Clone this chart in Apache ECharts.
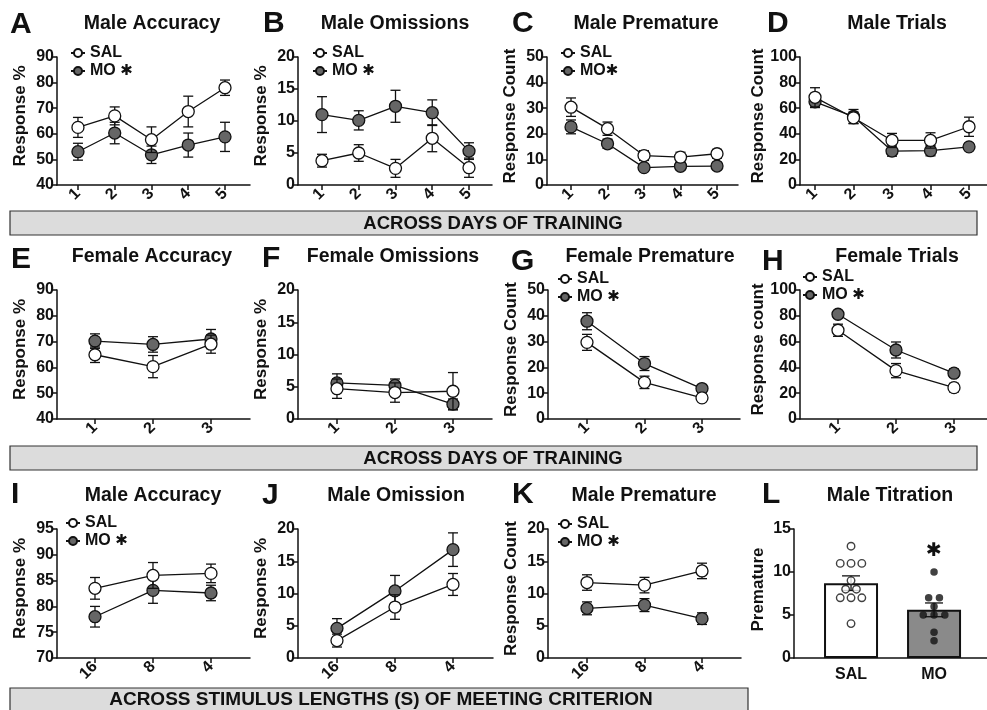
<!DOCTYPE html>
<html><head><meta charset="utf-8">
<script src="https://cdn.jsdelivr.net/npm/echarts@6/dist/echarts.min.js"></script>
<style>html,body{margin:0;padding:0;background:#fff}#c{width:987px;height:710px}</style>
</head><body><div id="c"></div>
<script>
// ---------- categories / tick labels ----------
const daysMale = ['1','2','3','4','5'];
const daysFemale = ['1','2','3'];
const stimLengths = ['16','8','4'];
const groupNames = ['SAL','MO'];

// ---------- A: Male Accuracy (days) ----------
const maleAccSal = [62.5, 67.0, 57.7, 68.7, 78.0];
const maleAccSalSem = [3.9, 3.5, 5.0, 6.0, 3.0];
const maleAccMo = [53.0, 60.3, 51.8, 55.6, 58.8];
const maleAccMoSem = [3.3, 4.2, 3.4, 4.7, 5.7];
// ---------- B: Male Omissions ----------
const maleOmSal = [3.8, 5.0, 2.6, 7.3, 2.7];
const maleOmSalSem = [1.0, 1.3, 1.4, 2.1, 1.5];
const maleOmMo = [11.0, 10.1, 12.3, 11.3, 5.3];
const maleOmMoSem = [2.8, 1.5, 2.5, 2.0, 1.3];
// ---------- C: Male Premature ----------
const malePremSal = [30.4, 22.0, 11.5, 10.9, 12.2];
const malePremSalSem = [3.6, 2.6, 1.9, 1.9, 1.7];
const malePremMo = [22.7, 16.1, 6.8, 7.3, 7.4];
const malePremMoSem = [2.7, 1.8, 1.2, 1.3, 0.8];
// ---------- D: Male Trials ----------
const maleTrialsSal = [68.5, 52.5, 34.8, 34.8, 45.5];
const maleTrialsSalSem = [7.5, 4.5, 5.5, 6.0, 7.5];
const maleTrialsMo = [65.0, 53.5, 26.5, 26.8, 29.8];
const maleTrialsMoSem = [4.5, 5.5, 4.0, 4.0, 2.5];
// ---------- E: Female Accuracy ----------
const femAccSal = [64.9, 60.3, 69.0];
const femAccSalSem = [3.0, 4.3, 3.5];
const femAccMo = [70.2, 68.9, 71.0];
const femAccMoSem = [2.8, 3.0, 3.7];
// ---------- F: Female Omissions ----------
const femOmSal = [4.7, 4.1, 4.3];
const femOmSalSem = [1.5, 1.5, 2.9];
const femOmMo = [5.6, 5.2, 2.3];
const femOmMoSem = [1.4, 1.0, 0.8];
// ---------- G: Female Premature ----------
const femPremSal = [29.7, 14.2, 8.2];
const femPremSalSem = [3.1, 2.4, 1.2];
const femPremMo = [37.9, 21.5, 11.8];
const femPremMoSem = [3.3, 2.7, 1.3];
// ---------- H: Female Trials ----------
const femTrialsSal = [68.8, 37.5, 24.3];
const femTrialsSalSem = [4.7, 5.5, 3.3];
const femTrialsMo = [81.2, 53.5, 35.5];
const femTrialsMoSem = [2.8, 6.2, 3.2];
// ---------- I: Male Accuracy (stimulus) ----------
const stimAccSal = [83.5, 86.0, 86.4];
const stimAccSalSem = [2.1, 2.5, 1.8];
const stimAccMo = [78.0, 83.1, 82.6];
const stimAccMoSem = [2.0, 2.5, 1.5];
// ---------- J: Male Omission (stimulus) ----------
const stimOmSal = [2.7, 7.9, 11.4];
const stimOmSalSem = [1.0, 1.9, 1.7];
const stimOmMo = [4.6, 10.4, 16.8];
const stimOmMoSem = [1.5, 2.4, 2.6];
// ---------- K: Male Premature (stimulus) ----------
const stimPremSal = [11.7, 11.3, 13.5];
const stimPremSalSem = [1.2, 1.2, 1.2];
const stimPremMo = [7.7, 8.2, 6.1];
const stimPremMoSem = [1.0, 1.0, 0.9];
// ---------- L: Male Titration ----------
const titrationMeans = [8.7, 5.6];
const titrationSems = [0.85, 0.8];
const titrationSalDots = [13, 11, 11, 11, 9, 8, 8, 7, 7, 7, 4];
const titrationMoDots = [10, 7, 7, 6, 5, 5, 5, 3, 2];
const titrationStarAt = 12.4;

// ---------- styling / layout ----------
const FONT = '"Liberation Sans", Arial, Helvetica, sans-serif';
const BLACK = '#111';
const MO_FILL = '#666';

const panels = [
  {cats: daysMale, sal: maleAccSal, salE: maleAccSalSem, mo: maleAccMo, moE: maleAccMoSem, y:[40,90,10], name:'Response %',
   g:{left:57, top:57, width:193, height:128, xMin:0.43, xMax:5.68}, legend:{left:70, top:45, sep:' '}},
  {cats: daysMale, sal: maleOmSal, salE: maleOmSalSem, mo: maleOmMo, moE: maleOmMoSem, y:[0,20,5], name:'Response %',
   g:{left:298, top:57, width:194, height:128, xMin:0.347, xMax:5.626}, legend:{left:312, top:45, sep:' '}},
  {cats: daysMale, sal: malePremSal, salE: malePremSalSem, mo: malePremMo, moE: malePremMoSem, y:[0,50,10], name:'Response Count',
   g:{left:547, top:57, width:191, height:128, xMin:0.342, xMax:5.575}, legend:{left:560, top:45, sep:''}},
  {cats: daysMale, sal: maleTrialsSal, salE: maleTrialsSalSem, mo: maleTrialsMo, moE: maleTrialsMoSem, y:[0,100,20], name:'Response Count',
   g:{left:800, top:57, width:187, height:128, xMin:0.61, xMax:5.467}},
  {cats: daysFemale, sal: femAccSal, salE: femAccSalSem, mo: femAccMo, moE: femAccMoSem, y:[40,90,10], name:'Response %',
   g:{left:57, top:290, width:193, height:129, xMin:0.345, xMax:3.673}},
  {cats: daysFemale, sal: femOmSal, salE: femOmSalSem, mo: femOmMo, moE: femOmMoSem, y:[0,20,5], name:'Response %',
   g:{left:298, top:290, width:194, height:129, xMin:0.328, xMax:3.673}},
  {cats: daysFemale, sal: femPremSal, salE: femPremSalSem, mo: femPremMo, moE: femPremMoSem, y:[0,50,10], name:'Response Count',
   g:{left:548, top:290, width:192, height:129, xMin:0.322, xMax:3.661}, legend:{left:557, top:271, sep:' '}},
  {cats: daysFemale, sal: femTrialsSal, salE: femTrialsSalSem, mo: femTrialsMo, moE: femTrialsMoSem, y:[0,100,20], name:'Response count',
   g:{left:800, top:290, width:187, height:129, xMin:0.345, xMax:3.569}, legend:{left:802, top:269, sep:' '}},
  {cats: stimLengths, sal: stimAccSal, salE: stimAccSalSem, mo: stimAccMo, moE: stimAccMoSem, y:[70,95,5], name:'Response %',
   g:{left:57, top:529, width:193, height:129, xMin:0.345, xMax:3.673}, legend:{left:65, top:515, sep:' '}},
  {cats: stimLengths, sal: stimOmSal, salE: stimOmSalSem, mo: stimOmMo, moE: stimOmMoSem, y:[0,20,5], name:'Response %',
   g:{left:298, top:529, width:195, height:129, xMin:0.328, xMax:3.69}},
  {cats: stimLengths, sal: stimPremSal, salE: stimPremSalSem, mo: stimPremMo, moE: stimPremMoSem, y:[0,20,5], name:'Response Count',
   g:{left:548, top:529, width:193, height:129, xMin:0.322, xMax:3.678}, legend:{left:557, top:516, sep:' '}}
];
const titrationLayout = {left:794, top:529, width:193, height:129, xMin:0.313, xMax:2.638};

const labelsText = [
  ['A',10,25,'Male Accuracy',152,24], ['B',263,24,'Male Omissions',395,24], ['C',512,24,'Male Premature',646,24], ['D',767,24,'Male Trials',897,24],
  ['E',11,260,'Female Accuracy',152,257], ['F',262,259,'Female Omissions',393,257], ['G',511,262,'Female Premature',650,257], ['H',762,262,'Female Trials',897,257],
  ['I',11,495,'Male Accuracy',153,496], ['J',262,496,'Male Omission',396,496], ['K',512,495,'Male Premature',644,496], ['L',762,495,'Male Titration',890,496]
];

function errRender(cap){
  return function(params, api){
    const x = api.value(0), y = api.value(1), e = api.value(2);
    const t = api.coord([x, y + e]), b = api.coord([x, y - e]);
    const st = {stroke: BLACK, lineWidth: 1.3, fill: null};
    return {type:'group', children:[
      {type:'line', shape:{x1:t[0], y1:t[1], x2:b[0], y2:b[1]}, style:st},
      {type:'line', shape:{x1:t[0]-cap, y1:t[1], x2:t[0]+cap, y2:t[1]}, style:st},
      {type:'line', shape:{x1:b[0]-cap, y1:b[1], x2:b[0]+cap, y2:b[1]}, style:st}
    ]};
  };
}
function swarm(vals, center, step){
  const counts = {}, seen = {};
  vals.forEach(v => counts[v] = (counts[v] || 0) + 1);
  return vals.map(v => { const k = counts[v]; const j = seen[v] || 0; seen[v] = j + 1; return [center + (j - (k - 1) / 2) * step, v]; });
}

const axisLineStyle = {color: BLACK, width: 1.5};
const tickFont = {fontFamily: FONT, fontSize: 16, fontWeight: 'bold', color: BLACK};

const grids = [], xAxes = [], yAxes = [], series = [], legends = [];
panels.forEach((p, i) => {
  grids.push({left: p.g.left, top: p.g.top, width: p.g.width, height: p.g.height});
  const pos = p.cats.map((c, j) => j + 1);
  xAxes.push({gridIndex: i, type: 'value', min: p.g.xMin, max: p.g.xMax,
    axisLine: {show: true, onZero: false, lineStyle: axisLineStyle},
    axisTick: {show: true, customValues: pos, length: 5, lineStyle: axisLineStyle},
    axisLabel: Object.assign({customValues: pos, rotate: 45, margin: 6, formatter: v => p.cats[Math.round(v) - 1]}, tickFont),
    splitLine: {show: false}});
  yAxes.push({gridIndex: i, type: 'value', min: p.y[0], max: p.y[1], interval: p.y[2],
    axisLine: {show: true, onZero: false, lineStyle: axisLineStyle},
    axisTick: {show: true, length: 5, lineStyle: axisLineStyle},
    axisLabel: Object.assign({margin: 3}, tickFont),
    splitLine: {show: false},
    name: p.name, nameLocation: 'middle', nameGap: 28,
    nameTextStyle: {fontFamily: FONT, fontSize: 17, fontWeight: 'bold', color: BLACK, padding: [0, 0, 0, 10]}});
  const mk = (vals) => vals.map((v, j) => [j + 1, v]);
  const mkE = (vals, errs) => vals.map((v, j) => [j + 1, v, errs[j]]);
  series.push({type: 'custom', xAxisIndex: i, yAxisIndex: i, renderItem: errRender(5), encode: {x: 0, y: 1}, data: mkE(p.mo, p.moE), z: 1, silent: true});
  series.push({type: 'line', name: 'MO', xAxisIndex: i, yAxisIndex: i, data: mk(p.mo), symbol: 'circle', symbolSize: 12,
    lineStyle: {color: BLACK, width: 1.3}, itemStyle: {color: MO_FILL, borderColor: BLACK, borderWidth: 1.3}, z: 2, silent: true});
  series.push({type: 'custom', xAxisIndex: i, yAxisIndex: i, renderItem: errRender(5), encode: {x: 0, y: 1}, data: mkE(p.sal, p.salE), z: 3, silent: true});
  series.push({type: 'line', name: 'SAL', xAxisIndex: i, yAxisIndex: i, data: mk(p.sal), symbol: 'circle', symbolSize: 12,
    lineStyle: {color: BLACK, width: 1.3}, itemStyle: {color: '#fff', borderColor: BLACK, borderWidth: 1.3}, z: 4, silent: true});
  if (p.legend) {
    const sep = p.legend.sep;
    legends.push({left: p.legend.left, top: p.legend.top, orient: 'vertical', itemGap: 2, itemWidth: 14, itemHeight: 10,
      padding: 0, selectedMode: false, data: groupNames,
      formatter: n => n === 'MO' ? 'MO' + sep + '{s|✱}' : n,
      textStyle: {fontFamily: FONT, fontSize: 16, fontWeight: 'bold', color: BLACK,
        rich: {s: {fontFamily: 'DejaVu Sans', fontSize: 15, fontWeight: 'bold', color: BLACK}}}});
  }
});

// Panel L
const li = panels.length;
const tl = titrationLayout;
grids.push({left: tl.left, top: tl.top, width: tl.width, height: tl.height});
xAxes.push({gridIndex: li, type: 'value', min: tl.xMin, max: tl.xMax,
  axisLine: {show: true, onZero: false, lineStyle: axisLineStyle},
  axisTick: {show: false},
  axisLabel: Object.assign({customValues: [1, 2], margin: 9, formatter: v => groupNames[Math.round(v) - 1]}, tickFont),
  splitLine: {show: false}});
yAxes.push({gridIndex: li, type: 'value', min: 0, max: 15, interval: 5,
  axisLine: {show: true, onZero: false, lineStyle: axisLineStyle},
  axisTick: {show: true, length: 5, lineStyle: axisLineStyle},
  axisLabel: Object.assign({margin: 3}, tickFont),
  splitLine: {show: false},
  name: 'Premature', nameLocation: 'middle', nameGap: 27,
  nameTextStyle: {fontFamily: FONT, fontSize: 17, fontWeight: 'bold', color: BLACK, padding: [0, 0, 0, 8]}});
series.push({type: 'bar', xAxisIndex: li, yAxisIndex: li, barWidth: 54, silent: true, z: 2,
  data: titrationMeans.map((v, j) => ({value: [j + 1, v], itemStyle: {color: j === 0 ? '#fff' : '#8a8a8a', borderColor: BLACK, borderWidth: 2}}))});
series.push({type: 'custom', xAxisIndex: li, yAxisIndex: li, renderItem: errRender(9), encode: {x: 0, y: 1}, z: 3, silent: true,
  data: titrationMeans.map((v, j) => [j + 1, v, titrationSems[j]])});
series.push({type: 'scatter', xAxisIndex: li, yAxisIndex: li, symbolSize: 7.5, z: 4, silent: true,
  itemStyle: {color: '#fff', borderColor: BLACK, borderWidth: 1.4}, data: swarm(titrationSalDots, 1, 0.13)});
series.push({type: 'scatter', xAxisIndex: li, yAxisIndex: li, symbolSize: 7.5, z: 4, silent: true,
  itemStyle: {color: BLACK}, data: swarm(titrationMoDots, 2, 0.13)});
series.push({type: 'custom', xAxisIndex: li, yAxisIndex: li, encode: {x: 0, y: 1}, z: 5, silent: true, data: [[2, titrationStarAt]],
  renderItem: (params, api) => { const c = api.coord([api.value(0), api.value(1)]);
    return {type: 'text', x: c[0], y: c[1], style: {text: '✱', font: 'bold 19px "DejaVu Sans"', fill: BLACK, align: 'center', verticalAlign: 'middle'}}; }});

// graphic: panel letters, titles, section bands
const graphic = [];
labelsText.forEach(r => {
  graphic.push({type: 'text', x: r[1], y: r[2], style: {text: r[0], font: 'bold 30px ' + FONT, fill: BLACK, align: 'left', verticalAlign: 'middle'}});
  graphic.push({type: 'text', x: r[4], y: r[5], style: {text: r[3], font: 'bold 19.5px ' + FONT, fill: BLACK, align: 'center', verticalAlign: 'middle'}});
});
const bands = [
  [10, 211, 967, 24, 'ACROSS DAYS OF TRAINING', 493, 224, 18.5],
  [10, 446, 967, 24, 'ACROSS DAYS OF TRAINING', 493, 459, 18.5],
  [10, 688, 738, 30, 'ACROSS STIMULUS LENGTHS (S) OF MEETING CRITERION', 381, 700, 19]
];
bands.forEach(b => {
  graphic.push({type: 'rect', shape: {x: b[0], y: b[1], width: b[2], height: b[3]}, style: {fill: '#dcdcdc', stroke: '#333', lineWidth: 1.2}});
  graphic.push({type: 'text', x: b[5], y: b[6], style: {text: b[4], font: 'bold ' + b[7] + 'px ' + FONT, fill: BLACK, align: 'center', verticalAlign: 'middle'}});
});

const chart = echarts.init(document.getElementById('c'), null, {renderer: 'canvas'});
chart.setOption({
  animation: false,
  backgroundColor: '#fff',
  grid: grids, xAxis: xAxes, yAxis: yAxes, series: series, legend: legends, graphic: graphic
});
</script>
</body></html>
